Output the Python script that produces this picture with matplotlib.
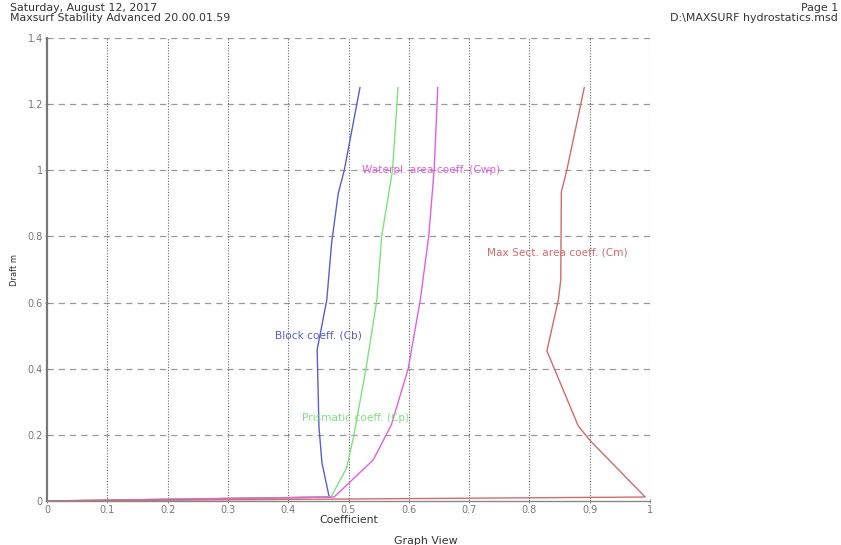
import matplotlib
matplotlib.use("Agg")
import matplotlib.pyplot as plt

# Hydrostatic coefficients vs draft
draft = [0.0, 0.012, 0.115, 0.224, 0.457, 0.608, 0.78, 0.93, 1.0, 1.25]
cb = [0.0, 0.468, 0.456, 0.451, 0.448, 0.464, 0.472, 0.483, 0.493, 0.519]

draft_cp = [0.0, 0.012, 0.10, 0.20, 0.40, 0.608, 0.80, 1.0, 1.25]
cp = [0.0, 0.471, 0.497, 0.509, 0.529, 0.547, 0.555, 0.573, 0.582]

draft_cwp = [0.0, 0.012, 0.124, 0.23, 0.40, 0.608, 0.80, 1.0, 1.25]
cwp = [0.0, 0.476, 0.541, 0.571, 0.599, 0.619, 0.633, 0.642, 0.648]

draft_cm = [0.0, 0.012, 0.184, 0.227, 0.454, 0.608, 0.668, 0.935, 1.0, 1.25]
cm = [0.0, 0.992, 0.900, 0.881, 0.829, 0.848, 0.852, 0.853, 0.862, 0.891]

x_ticks = [0, 0.1, 0.2, 0.3, 0.4, 0.5, 0.6, 0.7, 0.8, 0.9, 1]
y_ticks = [0, 0.2, 0.4, 0.6, 0.8, 1, 1.2, 1.4]

blue = "#5c5cd0"
green = "#80e080"
magenta = "#e060e0"
red = "#d46a6a"
grey = "#777777"

fig = plt.figure(figsize=(8.41, 5.45), dpi=100)
ax = fig.add_axes([47 / 841, 44 / 545, 603 / 841, 463 / 545])

ax.plot(cb, draft, color=blue, lw=1.0)
ax.plot(cp, draft_cp, color=green, lw=1.0)
ax.plot(cwp, draft_cwp, color=magenta, lw=1.0)
ax.plot(cm, draft_cm, color=red, lw=1.0)

lab = dict(fontsize=7.6, va="center")
ax.text(0.378, 0.50, "Block coeff. (Cb)", color=blue, **lab)
ax.text(0.423, 0.25, "Prismatic coeff. (Cp)", color=green, **lab)
ax.text(0.522, 1.0, "Waterpl. area coeff. (Cwp)", color=magenta, **lab)
ax.text(0.730, 0.75, "Max Sect. area coeff. (Cm)", color=red, **lab)

ax.set_xlim(0, 1)
ax.set_ylim(0, 1.4)
ax.set_xticks(x_ticks)
ax.set_yticks(y_ticks)
ax.set_xticklabels([f"{v:g}" for v in x_ticks])
ax.set_yticklabels([f"{v:g}" for v in y_ticks])
ax.tick_params(labelsize=7, colors=grey, length=3, width=0.6,
               direction="inout", pad=1.5)

# grid: dashed horizontal, dotted vertical
for yv in y_ticks[1:]:
    ax.axhline(yv, color="#999999", ls=(0, (5, 4)), lw=0.9, zorder=0)
for xv in x_ticks[1:]:
    ax.axvline(xv, color="#666666", ls=(0, (1, 1.5)), lw=0.8, zorder=0)

for side in ["top", "right"]:
    ax.spines[side].set_visible(False)
ax.spines["left"].set_color("#777777")
ax.spines["left"].set_linewidth(1.6)
ax.spines["bottom"].set_color("#888888")
ax.spines["bottom"].set_linewidth(1.0)

ax.set_xlabel("Coefficient", fontsize=7.8, color="#333333", labelpad=0)
ax.set_ylabel("Draft m", fontsize=6, color="#333333", labelpad=6)

hdr = dict(fontsize=7.9, color="#333333", va="center")
fig.text(10 / 841, 1 - 8 / 545, "Saturday, August 12, 2017", **hdr)
fig.text(10 / 841, 1 - 18 / 545, "Maxsurf Stability Advanced 20.00.01.59", **hdr)
fig.text(838 / 841, 1 - 8 / 545, "Page 1", ha="right", **hdr)
fig.text(838 / 841, 1 - 18 / 545, "D:\\MAXSURF hydrostatics.msd", ha="right", **hdr)
fig.text(426 / 841, 1 - 541 / 545, "Graph View", ha="center", **hdr)

fig.savefig("out.png", dpi=100)
